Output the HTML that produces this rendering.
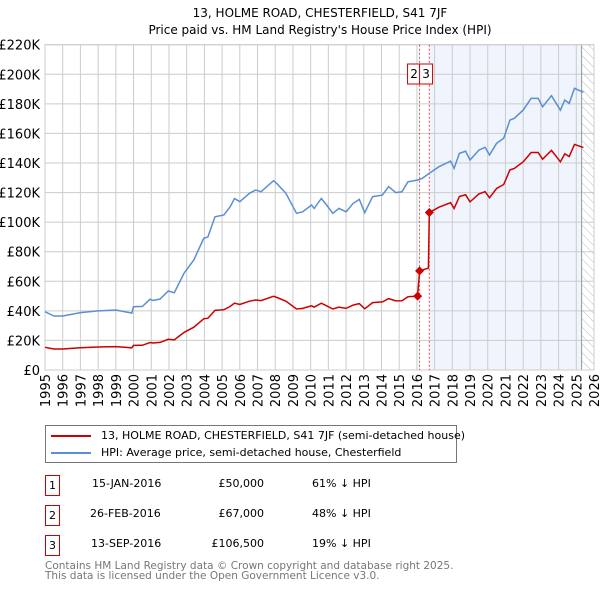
<!DOCTYPE html>
<html><head><meta charset="utf-8"><style>
body{margin:0;background:#fff;width:600px;height:590px;overflow:hidden;font-family:"Liberation Sans","DejaVu Sans",sans-serif}
svg text{font-family:"DejaVu Sans","Liberation Sans",sans-serif}
.t div{white-space:nowrap}
</style></head><body>
<svg id="c" width="600" height="590" viewBox="0 0 600 590"></svg>
<script>
const hpiYears=[1995,1995.5,1996,1997,1998,1999,1999.9,2000,2000.5,2000.93,2001.1,2001.5,2001.96,2002.3,2002.85,2003.4,2003.96,2004.2,2004.6,2005.1,2005.45,2005.7,2006.0,2006.55,2006.9,2007.2,2007.9,2008.1,2008.6,2009.2,2009.55,2010.05,2010.2,2010.6,2010.9,2011.25,2011.6,2012.0,2012.4,2012.75,2013.05,2013.5,2014.05,2014.4,2014.8,2015.15,2015.5,2016.05,2016.3,2016.7,2017.25,2017.9,2018.1,2018.4,2018.75,2019.0,2019.5,2019.85,2020.1,2020.5,2020.9,2021.25,2021.5,2022.0,2022.45,2022.85,2023.1,2023.6,2024.1,2024.35,2024.6,2024.9,2025.4];
const hpiValues=[39.4,36.5,36.5,38.8,40,40.6,38.5,42.8,43,47.8,47,48,53.4,52.3,65.4,74.4,89,90,103.6,104.8,110.4,116,113.8,119.5,121.7,120.6,128,126,119.5,106,107,111.6,109.3,116,111.6,106,109.3,107,112.7,115.4,106.4,117.2,118.3,124,120,120.5,127.3,128.5,129.6,133,137.5,141.3,136.4,146.5,148,142,148.7,150.6,145.4,153.3,156.7,169,170.2,175.8,183.7,183.7,178,185.5,175.8,182.6,180.3,190.5,187.8];
const saleYears=[2016.04,2016.15,2016.70];
const salePrices=[50,67,106.5];
const yTicks=[0,20,40,60,80,100,120,140,160,180,200,220];
const yTickLabels=["£0","£20K","£40K","£60K","£80K","£100K","£120K","£140K","£160K","£180K","£200K","£220K"];
const xTicks=[1995,1996,1997,1998,1999,2000,2001,2002,2003,2004,2005,2006,2007,2008,2009,2010,2011,2012,2013,2014,2015,2016,2017,2018,2019,2020,2021,2022,2023,2024,2025,2026];

const L=45,R=594,T=44.7,B=370;
const X=y=>L+(y-1995)/31*(R-L);
const Y=v=>B-v/220*(B-T);
const S=document.getElementById('c');
const NS='http://www.w3.org/2000/svg';
function mk(tag,at,txt){const e=document.createElementNS(NS,tag);for(const k in at)e.setAttribute(k,at[k]);if(txt!==undefined)e.textContent=txt;S.appendChild(e);return e;}
function hpiAt(y){for(let i=1;i<hpiYears.length;i++){if(y<=hpiYears[i]){const t=(y-hpiYears[i-1])/(hpiYears[i]-hpiYears[i-1]);return hpiValues[i-1]+t*(hpiValues[i]-hpiValues[i-1]);}}return hpiValues[hpiValues.length-1];}

let e=mk('text',{x:320,y:17,'text-anchor':'middle','font-size':12,fill:'#000'},'13, HOLME ROAD, CHESTERFIELD, S41 7JF');


e=mk('text',{x:320,y:34,'text-anchor':'middle','font-size':12,fill:'#000'},"Price paid vs. HM Land Registry's House Price Index (HPI)");



e=mk('rect',{x:X(saleYears[2]),y:T,width:X(2025.3)-X(saleYears[2]),height:B-T,fill:'#f0f4fd'});


const defs=mk('defs',{});
defs.innerHTML='<pattern id="h" width="6" height="6" patternUnits="userSpaceOnUse" patternTransform="rotate(-45)"><line x1="0" y1="0" x2="0" y2="6" stroke="#bbb" stroke-width="1"/></pattern>';
e=mk('rect',{x:X(2025.3),y:T,width:R-X(2025.3),height:B-T,fill:'url(#h)'});



yTicks.forEach((v,i)=>{
 let g=mk('line',{x1:L,x2:R,y1:Y(v),y2:Y(v),stroke:'#cccccc','stroke-width':1});
 
 
 let t=mk('text',{x:40,y:Y(v)+5,'text-anchor':'end','font-size':13,fill:'#000'},yTickLabels[i]);
 
 
});
xTicks.forEach(y=>{
 let g=mk('line',{x1:X(y),x2:X(y),y1:T,y2:B,stroke:'#cccccc','stroke-width':1});
 
 
 let t=mk('text',{x:0,y:0,'text-anchor':'end','font-size':13,fill:'#000',transform:`translate(${X(y)+5},374) rotate(-90)`},String(y));
 
 
});
e=mk('line',{x1:X(2025.3),x2:X(2025.3),y1:T,y2:B,stroke:'#999','stroke-width':1});


e=mk('rect',{x:L,y:T,width:R-L,height:B-T,fill:'none',stroke:'#cccccc'});



[1,2].forEach(i=>{
 let l=mk('line',{x1:X(saleYears[i]),x2:X(saleYears[i]),y1:T,y2:B,stroke:'#e05050','stroke-width':1,'stroke-dasharray':'2,2'});
 
 
});

let d=hpiYears.map((y,i)=>(i?'L':'M')+X(y).toFixed(1)+','+Y(hpiValues[i]).toFixed(1)).join(' ');
e=mk('path',{d:d,fill:'none',stroke:'#5b8fd4','stroke-width':1.5});



let pts=[];
const r0=salePrices[0]/hpiAt(saleYears[0]);
hpiYears.forEach((y,i)=>{if(y<saleYears[0])pts.push([y,hpiValues[i]*r0]);});
pts.push([saleYears[0],salePrices[0]]);
pts.push([saleYears[1],salePrices[1]]);
const r1=salePrices[1]/hpiAt(saleYears[1]);
pts.push([saleYears[2]-0.05,hpiAt(saleYears[2]-0.05)*r1]);
pts.push([saleYears[2],salePrices[2]]);
const r2=salePrices[2]/hpiAt(saleYears[2]);
hpiYears.forEach((y,i)=>{if(y>saleYears[2])pts.push([y,hpiValues[i]*r2]);});
d=pts.map((p,i)=>(i?'L':'M')+X(p[0]).toFixed(1)+','+Y(p[1]).toFixed(1)).join(' ');
e=mk('path',{d:d,fill:'none',stroke:'#cc0000','stroke-width':1.5});


saleYears.forEach((y,i)=>{
 const cx=X(y),cy=Y(salePrices[i]);
 let m=mk('polygon',{points:`${cx},${cy-4.5} ${cx+4.5},${cy} ${cx},${cy+4.5} ${cx-4.5},${cy}`,fill:'#cc0000'});
 
 
});
[[1,'2',X(saleYears[1])-12],[2,'3',X(saleYears[1])]].forEach(a=>{
 let b=mk('rect',{x:a[2],y:64,width:13,height:20,fill:'#fff',stroke:'#cc0000','stroke-width':1});
 
 
 let t=mk('text',{x:a[2]+6.5,y:78,'text-anchor':'middle','font-size':12,fill:'#000'},a[1]);
 
 
});
</script>
<div style="position:absolute;left:45px;top:425px;width:412px;height:38px;border:1px solid #777;box-sizing:border-box;font-size:11px;font-family:'DejaVu Sans','Liberation Sans',sans-serif">
 <div style="position:absolute;left:5px;top:3px;white-space:nowrap"><span style="display:inline-block;width:40px;height:2px;background:#cc0000;vertical-align:middle;margin-right:10px"></span>13, HOLME ROAD, CHESTERFIELD, S41 7JF (semi-detached house)</div>
 <div style="position:absolute;left:5px;top:20px;white-space:nowrap"><span style="display:inline-block;width:40px;height:2px;background:#5b8fd4;vertical-align:middle;margin-right:10px"></span>HPI: Average price, semi-detached house, Chesterfield</div>
</div>
<div class="t" style="position:absolute;left:0;top:0;font-size:11px;font-family:'DejaVu Sans','Liberation Sans',sans-serif">
 <div>
  <div style="position:absolute;left:45px;top:475px;width:13px;height:19px;border:1px solid #cc0000;text-align:center;line-height:19px">1</div>
  <div style="position:absolute;left:92px;top:477px">15-JAN-2016</div>
  <div style="position:absolute;left:164px;width:100px;text-align:right;top:477px">£50,000</div>
  <div style="position:absolute;left:312px;top:477px">61% ↓ HPI</div>
 </div>
 <div>
  <div style="position:absolute;left:45px;top:505px;width:13px;height:19px;border:1px solid #cc0000;text-align:center;line-height:19px">2</div>
  <div style="position:absolute;left:90px;top:507px">26-FEB-2016</div>
  <div style="position:absolute;left:164px;width:100px;text-align:right;top:507px">£67,000</div>
  <div style="position:absolute;left:312px;top:507px">48% ↓ HPI</div>
 </div>
 <div>
  <div style="position:absolute;left:45px;top:535px;width:13px;height:19px;border:1px solid #cc0000;text-align:center;line-height:19px">3</div>
  <div style="position:absolute;left:91px;top:537px">13-SEP-2016</div>
  <div style="position:absolute;left:164px;width:100px;text-align:right;top:537px">£106,500</div>
  <div style="position:absolute;left:312px;top:537px">19% ↓ HPI</div>
 </div>
</div>
<div style="position:absolute;left:45px;top:561px;font-size:10.5px;line-height:10px;color:#777;font-family:'DejaVu Sans','Liberation Sans',sans-serif;white-space:nowrap">Contains HM Land Registry data © Crown copyright and database right 2025.<br>This data is licensed under the Open Government Licence v3.0.</div>
</body></html>
